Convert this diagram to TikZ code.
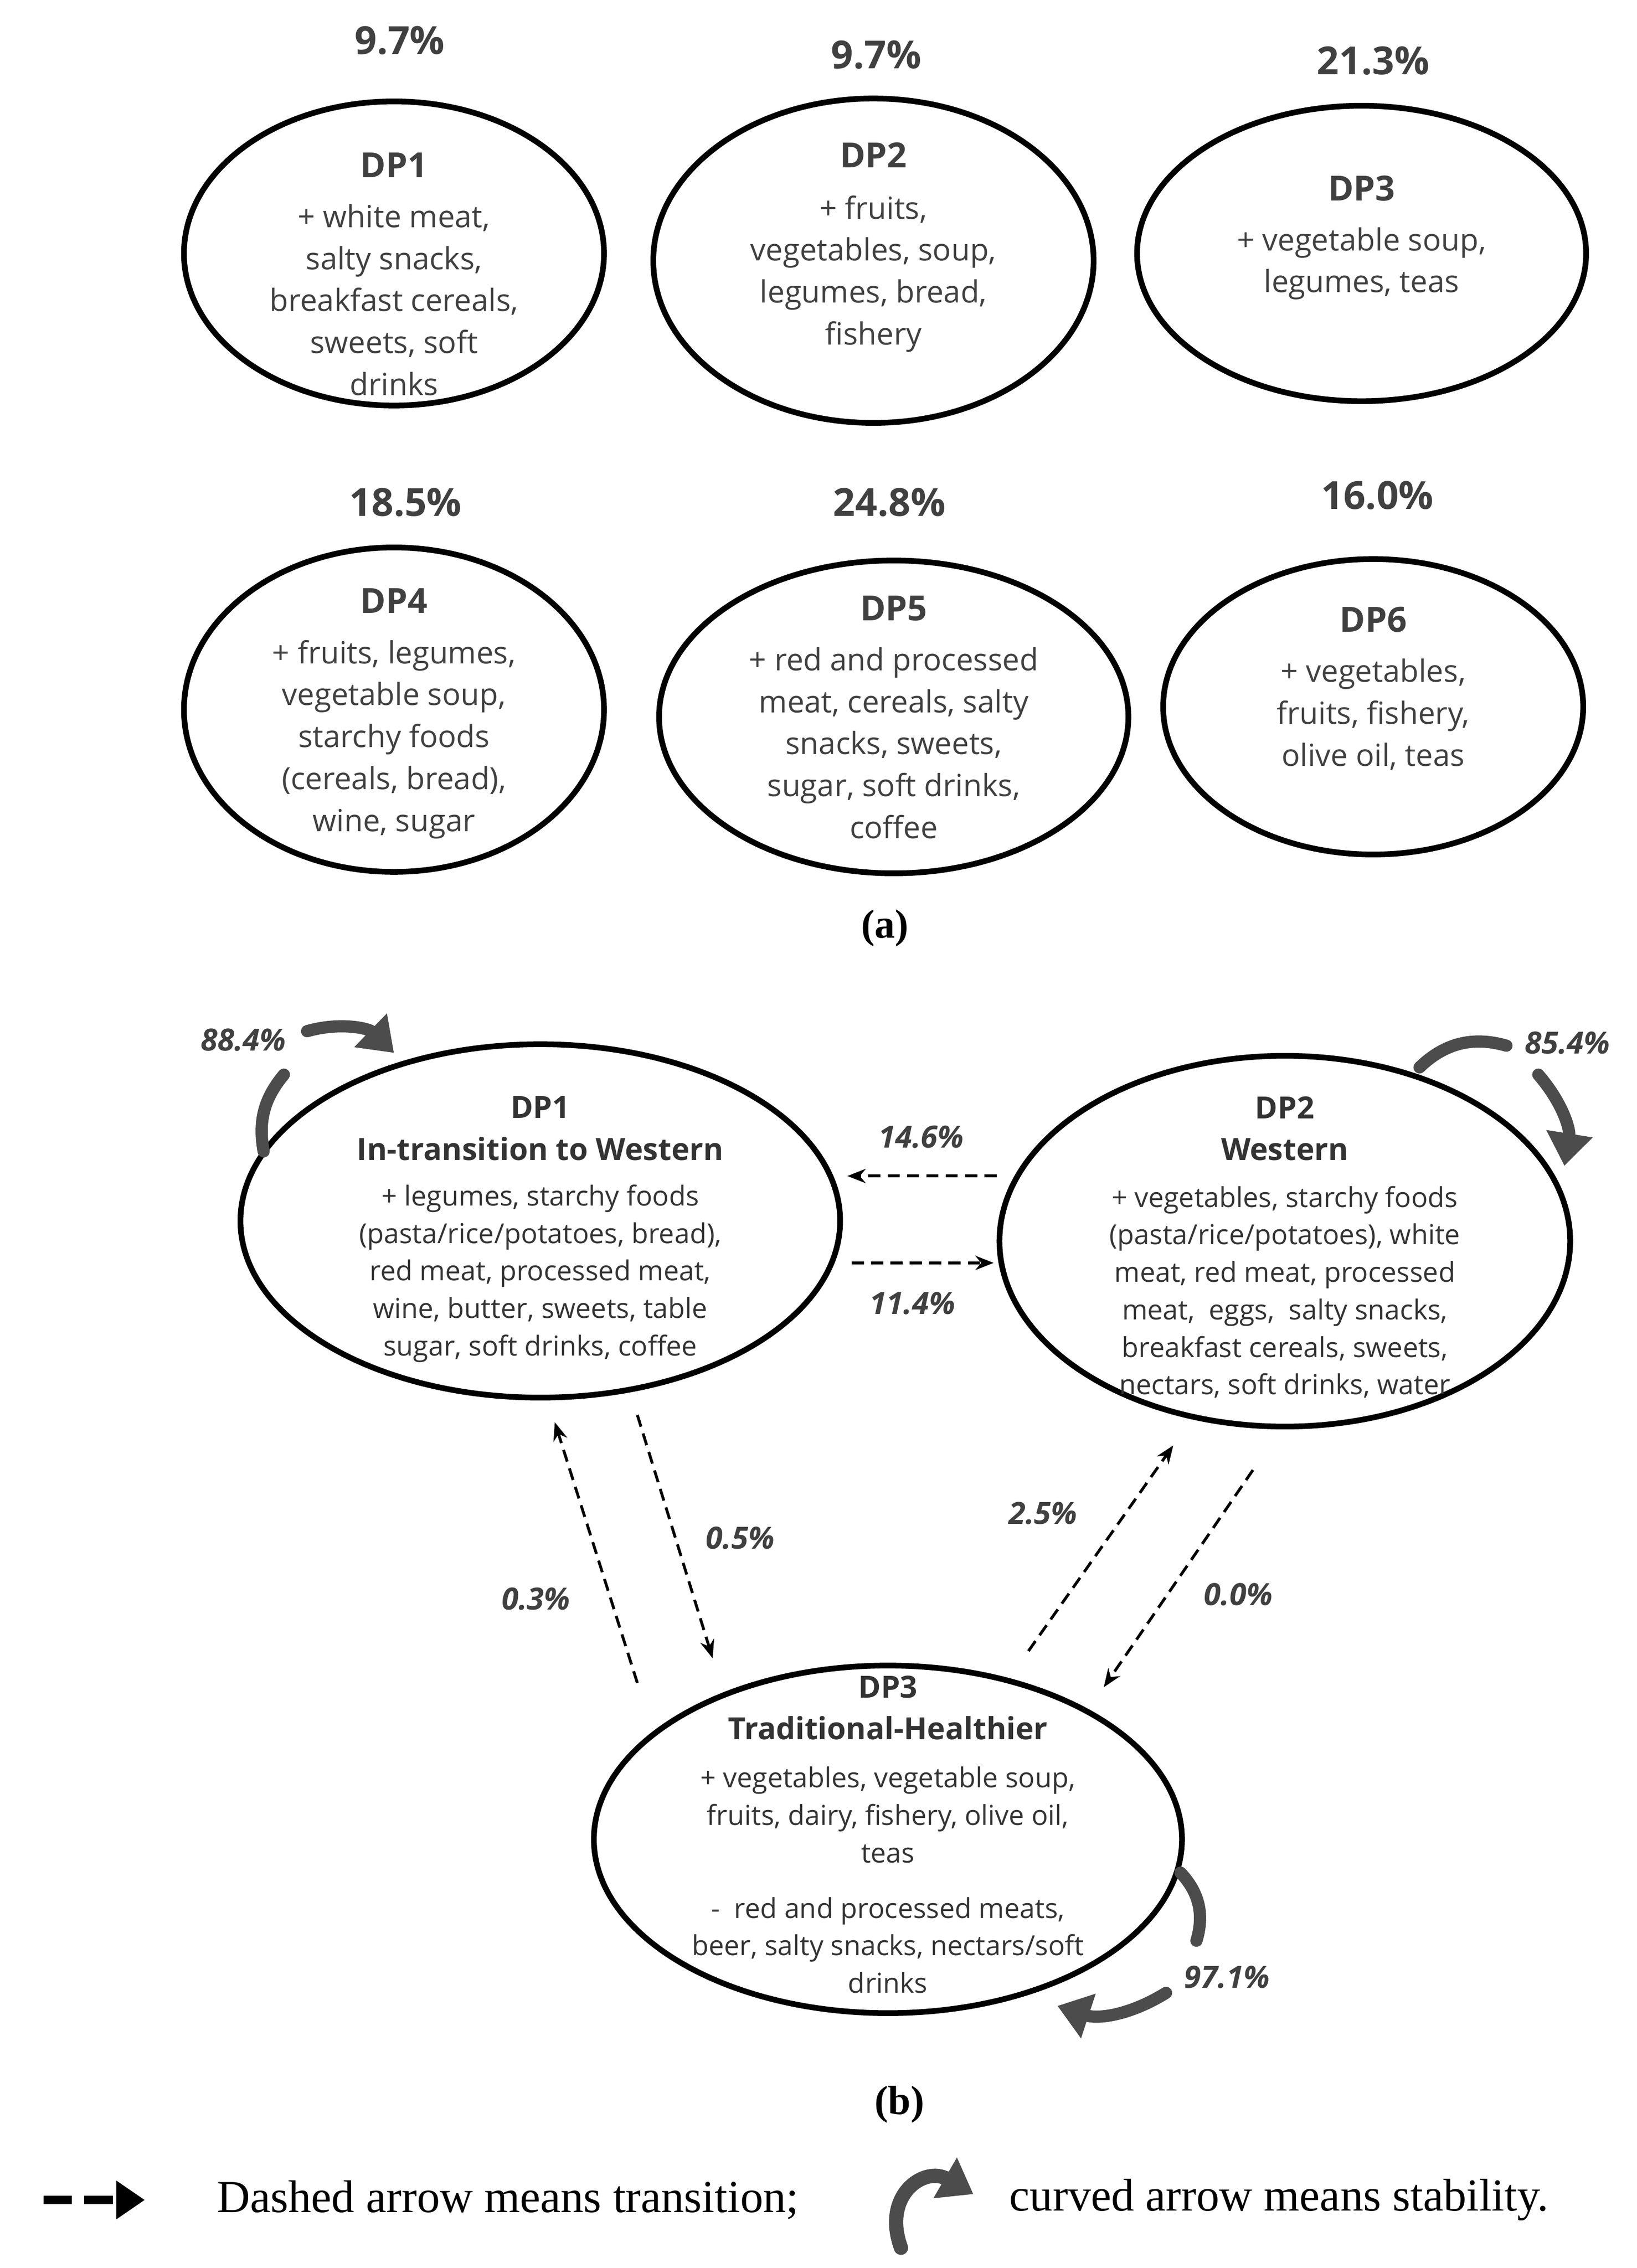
\documentclass[tikz,border=0pt]{standalone}
\usepackage{fontspec}
\setmainfont{Liberation Serif}
\newfontfamily\os{Open Sans}
\usetikzlibrary{shapes.geometric,arrows.meta}
\begin{document}
\begin{tikzpicture}[x=0.025cm,y=-0.025cm,
  ell/.style={ellipse,draw=black,line width=2.8pt,inner sep=0pt},
  pct/.style={font=\os\bfseries\fontsize{19}{22}\selectfont,text=black!75},
  ta/.style={font=\os\fontsize{15}{20.6}\selectfont,align=center,text=black!75},
  tta/.style={font=\os\bfseries\fontsize{17}{20}\selectfont,text=black!75},
  tb/.style={font=\os\fontsize{13.5}{18.4}\selectfont,align=center,text=black!80},
  ttb/.style={font=\os\bfseries\fontsize{15}{20.6}\selectfont,align=center,text=black!80},
  lb/.style={font=\os\bfseries\itshape\fontsize{15}{18}\selectfont,text=black!75},
  dar/.style={dashed,line width=1.4pt,dash pattern=on 6pt off 3.5pt,-{Stealth[length=9pt,width=7pt]}},
  car/.style={line width=6pt,draw=black!70,line cap=round,-{Triangle[length=16pt,width=22pt]}},
  captxt/.style={font=\bfseries\fontsize{20}{24}\selectfont}]
\useasboundingbox (0,0) rectangle (1130,1566);
% (a)
\node[ell,minimum width={290*0.025cm},minimum height={210*0.025cm}] (a1) at (272,175) {};
\node[ell,minimum width={304*0.025cm},minimum height={224*0.025cm}] (a2) at (603,180) {};
\node[ell,minimum width={310*0.025cm},minimum height={204*0.025cm}] (a3) at (940,175) {};
\node[ell,minimum width={290*0.025cm},minimum height={224*0.025cm}] (a4) at (272,490) {};
\node[ell,minimum width={324*0.025cm},minimum height={216*0.025cm}] (a5) at (617,495) {};
\node[ell,minimum width={290*0.025cm},minimum height={204*0.025cm}] (a6) at (948,488) {};
\node[pct] at (276,28) {9.7\%};
\node[pct] at (605,38) {9.7\%};
\node[pct] at (948,42) {21.3\%};
\node[pct] at (280,347) {18.5\%};
\node[pct] at (614,347) {24.8\%};
\node[pct] at (951,342) {16.0\%};
\node[tta] at (272,114) {DP1};
\node[ta,anchor=north] at (272,136) {+ white meat,\\salty snacks,\\breakfast cereals,\\sweets, soft\\drinks};
\node[tta] at (603,107) {DP2};
\node[ta,anchor=north] at (603,130) {+ fruits,\\vegetables, soup,\\legumes, bread,\\fishery};
\node[tta] at (940,130) {DP3};
\node[ta,anchor=north] at (940,152) {+ vegetable soup,\\legumes, teas};
\node[tta] at (272,415) {DP4};
\node[ta,anchor=north] at (272,437) {+ fruits, legumes,\\vegetable soup,\\starchy foods\\(cereals, bread),\\wine, sugar};
\node[tta] at (617,420) {DP5};
\node[ta,anchor=north] at (617,442) {+ red and processed\\meat, cereals, salty\\snacks, sweets,\\sugar, soft drinks,\\coffee};
\node[tta] at (948,428) {DP6};
\node[ta,anchor=north] at (948,450) {+ vegetables,\\fruits, fishery,\\olive oil, teas};
\node[captxt] at (611,641) {(a)};
% (b)
\node[ell,minimum width={414*0.025cm},minimum height={244*0.025cm}] (b1) at (373,843) {};
\node[ell,minimum width={394*0.025cm},minimum height={256*0.025cm}] (b2) at (887,857) {};
\node[ell,minimum width={406*0.025cm},minimum height={240*0.025cm}] (b3) at (613,1270) {};
\node[ttb,anchor=north] at (373,752) {DP1\\In-transition to Western};
\node[tb,anchor=north] at (373,813) {+ legumes, starchy foods\\(pasta/rice/potatoes, bread),\\red meat, processed meat,\\wine, butter, sweets, table\\sugar, soft drinks, coffee};
\node[ttb,anchor=north] at (887,752) {DP2\\Western};
\node[tb,anchor=north] at (887,814) {+ vegetables, starchy foods\\(pasta/rice/potatoes), white\\meat, red meat, processed\\meat,\ \ eggs,\ \ salty snacks,\\breakfast cereals, sweets,\\nectars, soft drinks, water};
\node[ttb,anchor=north] at (613,1152) {DP3\\Traditional-Healthier};
\node[tb,anchor=north] at (613,1215) {+ vegetables, vegetable soup,\\fruits, dairy, fishery, olive oil,\\teas};
\node[tb,anchor=north] at (613,1305) {-\ \ red and processed meats,\\beer, salty snacks, nectars/soft\\drinks};
% dashed transitions
\coordinate (p1) at (688,812); \coordinate (p2) at (585,812);
\coordinate (p3) at (588,872); \coordinate (p4) at (686,872);
\coordinate (p5) at (440,977); \coordinate (p6) at (492,1145);
\coordinate (p7) at (440,1162); \coordinate (p8) at (383,982);
\coordinate (p9) at (710,1140); \coordinate (p10) at (810,998);
\coordinate (p11) at (865,1015); \coordinate (p12) at (762,1165);
\draw[dar] (p1) -- (p2);
\draw[dar] (p3) -- (p4);
\draw[dar] (p5) -- (p6);
\draw[dar] (p7) -- (p8);
\draw[dar] (p9) -- (p10);
\draw[dar] (p11) -- (p12);
\node[lb] at (636,785) {14.6\%};
\node[lb] at (630,900) {11.4\%};
\node[lb] at (511,1062) {0.5\%};
\node[lb] at (370,1104) {0.3\%};
\node[lb] at (720,1045) {2.5\%};
\node[lb] at (855,1101) {0.0\%};
% curved stability arrows
\coordinate (c1) at (212,712); \coordinate (c2) at (272,727);
\coordinate (c3) at (196,742); \coordinate (c4) at (182,795);
\draw[car] (c1) to[bend left=30] (c2);
\draw[car,-] (c3) to[bend right=25] (c4);
\coordinate (d1) at (980,737); \coordinate (d2) at (1040,722);
\coordinate (d3) at (1062,742); \coordinate (d4) at (1080,805);
\draw[car,-] (d1) to[bend left=30] (d2);
\draw[car] (d3) to[bend left=25] (d4);
\coordinate (e1) at (815,1293); \coordinate (e2) at (826,1340);
\coordinate (e3) at (805,1376); \coordinate (e4) at (730,1385);
\draw[car,-] (e1) to[bend left=30] (e2);
\draw[car] (e3) to[bend left=25] (e4);
\node[lb] at (168,718) {88.4\%};
\node[lb] at (1082,720) {85.4\%};
\node[lb] at (847,1365) {97.1\%};
\node[captxt] at (621,1453) {(b)};
% legend
\coordinate (l1) at (30,1519); \coordinate (l2) at (100,1519);
\draw[line width=4pt,dash pattern=on 14pt off 6pt,-{Triangle[length=14pt,width=18pt]}] (l1) -- (l2);
\node[anchor=west,font=\fontsize{22.5}{26}\selectfont] at (145,1519) {Dashed arrow means transition;};
\coordinate (m1) at (622,1552); \coordinate (m2) at (672,1515);
\draw[car,line width=7pt] (m1) to[out=110,in=150,looseness=1.6] (m2);
\node[anchor=west,font=\fontsize{22.5}{26}\selectfont] at (692,1519) {curved arrow means stability.};
\end{tikzpicture}
\end{document}
